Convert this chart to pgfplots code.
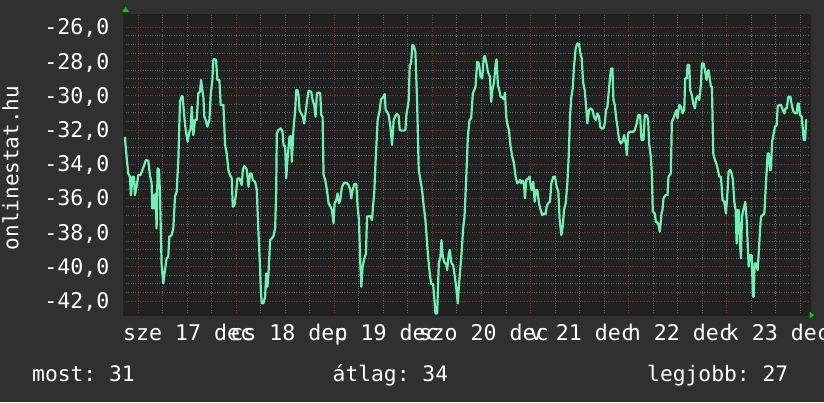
\documentclass[border=0pt]{standalone}
\usepackage{pgfplots}
\pgfplotsset{compat=1.18}
\usepackage{fontspec}
\setmainfont{DejaVu Sans Mono}
\frenchspacing
\definecolor{canvas}{RGB}{48,48,48}
\definecolor{plotbg}{RGB}{33,33,33}
\definecolor{majgrid}{RGB}{125,50,50}
\definecolor{mingrid}{RGB}{88,88,88}
\definecolor{linec}{RGB}{112,240,182}
\definecolor{arrowg}{RGB}{0,210,0}
\begin{document}
\begin{tikzpicture}
\fill[canvas] (-123.5pt,-87pt) rectangle (700.5pt,315pt);
\begin{axis}[
  scale only axis,
  width=686.5pt, height=301pt,
  xmin=-3.6, xmax=164.4,
  ymin=-42.82, ymax=-25.22,
  axis background/.style={fill=plotbg},
  axis line style={draw=plotbg},
  xtick={0,24,48,72,96,120,144},
  xticklabels={,,,,,,},
  minor xtick={6,12,18,30,36,42,54,60,66,78,84,90,102,108,114,126,132,138,150,156,162},
  ytick={-42,-40,-38,-36,-34,-32,-30,-28,-26},
  yticklabels={{-42,0},{-40,0},{-38,0},{-36,0},{-34,0},{-32,0},{-30,0},{-28,0},{-26,0}},
  minor y tick num=3,
  grid=both,
  major grid style={draw=majgrid, dotted, line width=0.9pt},
  minor grid style={draw=mingrid, dotted, line width=0.9pt},
  major tick length=0pt, minor tick length=0pt,
  tick label style={font=\fontsize{21.6}{24}\selectfont, color=white},
  yticklabel style={anchor=east, inner sep=0pt, xshift=-14pt, yshift=-1pt},
  xticklabel style={anchor=base, inner sep=0pt, yshift=-25pt},
  extra x ticks={12.2,36.86,60.78,84.53,108.58,132.53,156.56},
  extra x tick labels={sze 17 dec,cs 18 dec,p 19 dec,szo 20 dec,v 21 dec,h 22 dec,k 23 dec},
  extra x tick style={grid=none, major tick length=0pt},
  clip=true,
]
\addplot[linec, line width=2.2pt, line join=round] coordinates {
(-3.26,-32.40) (-2.85,-33.56) (-2.44,-34.54) (-2.03,-34.73) (-1.79,-35.81) (-1.38,-34.73) (-1.05,-34.73) (-0.81,-35.81) (-0.40,-35.32) (0.01,-34.64)
(0.58,-34.64) (1.07,-34.31) (1.89,-33.76) (2.46,-33.80) (2.87,-34.64) (3.28,-35.12) (3.44,-36.59) (3.69,-35.81) (3.93,-36.59) (4.26,-35.71)
(4.50,-37.76) (4.75,-34.25) (5.08,-34.31) (5.32,-35.61) (5.73,-39.90) (6.14,-40.97) (6.55,-40.19) (6.95,-39.51) (7.36,-39.41) (7.61,-38.24)
(8.18,-38.15) (8.59,-37.76) (9.00,-35.90) (9.41,-35.61) (9.82,-33.76) (10.22,-30.35) (10.63,-30.02) (10.88,-30.06) (11.20,-31.03) (11.61,-32.00)
(12.10,-32.69) (12.43,-32.20) (12.84,-31.91) (13.08,-30.64) (13.49,-32.30) (13.90,-31.42) (14.31,-31.42) (14.72,-29.86) (15.13,-29.76) (15.37,-29.08)
(15.70,-29.67) (15.94,-30.06) (16.19,-31.23) (16.52,-31.42) (16.92,-31.81) (17.42,-31.42) (17.74,-29.96) (18.15,-29.08) (18.40,-27.87) (18.80,-27.87)
(19.05,-27.91) (19.38,-29.08) (19.87,-29.08) (20.19,-30.54) (20.85,-30.54) (21.26,-32.88) (21.66,-33.37) (22.07,-34.34) (22.48,-34.64) (22.89,-34.83)
(23.14,-36.49) (23.54,-36.39) (23.95,-35.71) (24.28,-34.83) (24.77,-34.83) (25.34,-35.22) (25.59,-34.34) (25.99,-34.11) (26.57,-34.31) (26.98,-35.32)
(27.38,-34.54) (27.71,-34.54) (28.04,-34.93) (28.61,-35.03) (29.02,-35.51) (29.43,-38.05) (29.84,-40.10) (30.00,-41.36) (30.25,-42.14) (30.65,-42.14)
(31.06,-41.75) (31.31,-40.39) (31.63,-41.17) (31.88,-40.39) (32.29,-38.44) (32.70,-38.34) (33.11,-38.20) (33.51,-37.76) (33.76,-35.71) (33.92,-32.20)
(34.33,-32.00) (34.90,-31.91) (35.31,-32.10) (35.56,-32.88) (35.97,-32.98) (36.21,-34.83) (36.62,-33.47) (37.03,-32.40) (37.35,-32.36) (37.60,-33.86)
(38.01,-31.91) (38.42,-30.84) (38.66,-29.67) (38.99,-29.67) (39.23,-29.96) (39.48,-30.84) (39.89,-31.03) (40.30,-31.23) (40.62,-31.62) (40.95,-31.03)
(41.28,-30.35) (41.68,-29.72) (42.34,-29.76) (42.67,-30.25) (43.07,-30.54) (43.40,-31.23) (43.73,-29.86) (44.22,-29.82) (44.55,-29.86) (44.79,-31.13)
(45.12,-31.23) (45.36,-34.64) (45.77,-34.93) (46.18,-35.51) (46.59,-36.29) (47.00,-36.45) (47.40,-36.68) (47.81,-37.46) (48.06,-36.29) (48.47,-36.10)
(48.79,-35.71) (49.12,-36.29) (49.45,-36.10) (49.86,-35.32) (50.43,-35.09) (50.92,-35.09) (51.49,-35.22) (51.90,-35.51) (52.14,-36.00) (52.47,-35.51)
(52.88,-35.16) (53.37,-35.16) (53.70,-36.49) (54.02,-37.27) (54.35,-39.80) (54.60,-41.17) (54.92,-39.99) (55.33,-39.51) (55.74,-39.22) (55.99,-37.07)
(56.80,-37.03) (57.21,-37.27) (57.46,-36.49) (57.78,-35.61) (58.03,-34.15) (58.27,-32.98) (58.60,-31.42) (59.09,-30.84) (59.42,-30.21) (59.91,-30.09)
(60.32,-29.90) (60.56,-30.84) (60.89,-30.93) (61.30,-31.13) (61.71,-31.81) (62.11,-32.88) (62.52,-31.42) (62.93,-31.19) (63.34,-31.07) (63.75,-31.19)
(63.99,-32.00) (64.40,-32.04) (64.97,-32.04) (65.38,-32.00) (65.63,-31.13) (65.96,-30.64) (66.20,-30.25) (66.45,-28.20) (66.77,-28.11) (67.10,-27.03)
(67.43,-27.09) (67.83,-27.42) (68.24,-30.25) (68.65,-34.34) (69.06,-34.93) (69.47,-35.51) (69.88,-36.49) (70.29,-37.27) (70.70,-38.63) (70.94,-39.41)
(71.35,-40.39) (71.68,-41.01) (72.17,-41.01) (72.49,-41.95) (72.74,-42.73) (73.15,-42.73) (73.56,-39.80) (73.96,-39.41) (74.21,-38.44) (74.54,-39.41)
(75.03,-39.80) (75.35,-39.80) (75.60,-40.19) (76.01,-39.22) (76.25,-39.02) (76.66,-39.80) (77.07,-39.90) (77.48,-40.58) (77.80,-41.17) (78.21,-42.14)
(78.46,-41.17) (79.12,-39.22) (79.52,-37.76) (79.85,-37.07) (80.26,-34.93) (80.67,-32.40) (81.08,-31.42) (81.48,-31.32) (81.89,-29.86) (82.30,-29.63)
(82.55,-29.47) (82.96,-28.01) (83.36,-28.11) (83.77,-28.89) (84.18,-28.98) (84.59,-27.72) (84.84,-27.68) (85.24,-28.11) (85.57,-28.59) (86.06,-28.89)
(86.39,-30.35) (86.71,-29.57) (87.04,-29.28) (87.45,-28.20) (87.70,-27.87) (88.02,-29.37) (88.35,-29.67) (88.68,-30.06) (89.09,-30.09) (89.49,-30.21)
(89.74,-29.82) (90.07,-31.23) (90.31,-31.62) (90.72,-32.00) (91.13,-32.98) (91.54,-33.56) (91.95,-33.95) (92.35,-34.73) (92.76,-35.12) (93.17,-35.03)
(93.42,-34.93) (93.74,-35.12) (94.07,-34.97) (94.40,-35.12) (94.64,-36.00) (94.97,-34.93) (95.46,-34.83) (95.79,-34.73) (96.03,-35.22) (96.28,-35.51)
(96.69,-35.03) (97.01,-36.20) (97.34,-35.51) (97.67,-35.51) (98.07,-36.29) (98.48,-36.68) (98.89,-36.98) (99.30,-36.88) (99.71,-36.92) (99.95,-36.49)
(100.28,-36.29) (100.77,-36.20) (101.10,-35.12) (101.59,-34.73) (101.99,-34.73) (102.40,-35.32) (102.81,-35.61) (103.14,-37.27) (103.55,-38.15) (103.88,-37.66)
(104.20,-36.68) (104.61,-36.29) (105.02,-35.12) (105.35,-33.56) (105.67,-31.23) (106.00,-30.06) (106.33,-29.57) (106.65,-28.30) (107.06,-27.23) (107.47,-26.94)
(107.88,-26.98) (108.13,-27.42) (108.53,-27.81) (108.86,-29.18) (109.27,-29.67) (109.68,-30.84) (109.92,-31.62) (110.33,-30.84) (110.74,-30.74) (111.15,-30.84)
(111.56,-31.23) (111.97,-31.42) (112.38,-31.03) (112.78,-31.23) (113.03,-31.81) (113.44,-31.91) (113.85,-31.91) (114.17,-31.62) (114.50,-30.84) (114.83,-30.64)
(115.15,-29.76) (115.48,-28.89) (115.73,-28.40) (116.05,-28.40) (116.30,-30.25) (116.63,-30.54) (117.03,-31.42) (117.28,-31.81) (117.69,-32.59) (118.10,-32.79)
(118.50,-32.69) (118.91,-32.30) (119.32,-32.79) (119.57,-33.47) (119.89,-32.20) (120.30,-32.10) (120.71,-32.10) (121.19,-32.10) (121.52,-32.00) (122.01,-31.62)
(122.34,-31.13) (122.83,-31.13) (123.16,-32.59) (123.65,-32.59) (123.97,-31.13) (124.46,-31.13) (124.79,-31.42) (125.03,-32.79) (125.44,-33.56) (125.69,-34.54)
(125.93,-36.78) (126.42,-36.88) (126.67,-37.37) (127.24,-37.46) (127.65,-37.95) (128.06,-36.88) (128.30,-36.68) (128.55,-36.00) (129.04,-35.81) (129.53,-35.81)
(129.77,-34.73) (130.35,-34.54) (130.59,-31.52) (131.00,-31.32) (131.41,-31.03) (131.74,-30.84) (131.98,-31.32) (132.39,-30.54) (132.80,-30.64) (133.21,-31.03)
(133.62,-30.84) (133.86,-28.98) (134.27,-28.98) (134.43,-28.20) (134.84,-28.20) (135.09,-29.67) (135.50,-29.96) (135.82,-30.45) (136.23,-30.74) (136.56,-30.15)
(136.88,-30.02) (137.29,-30.25) (137.70,-29.37) (137.95,-28.11) (138.36,-28.11) (138.68,-28.50) (139.09,-29.08) (139.34,-28.59) (139.58,-28.50) (139.91,-29.08)
(140.15,-29.47) (140.40,-29.47) (140.72,-33.37) (141.13,-33.76) (141.46,-33.95) (141.79,-34.25) (142.20,-34.73) (142.60,-34.73) (143.01,-36.10) (143.42,-36.20)
(143.83,-36.88) (144.24,-35.51) (144.48,-34.44) (144.89,-34.34) (145.22,-34.54) (145.55,-34.93) (145.87,-36.20) (146.20,-36.68) (146.45,-38.63) (146.69,-36.68)
(146.94,-36.68) (147.26,-38.63) (147.51,-39.51) (147.75,-37.07) (148.08,-36.68) (148.57,-36.20) (148.90,-37.27) (149.14,-38.63) (149.39,-39.99) (149.71,-39.32)
(150.12,-39.32) (150.45,-41.75) (150.61,-41.75) (150.86,-39.80) (151.19,-39.80) (151.59,-40.19) (151.84,-39.22) (152.17,-37.85) (152.41,-37.07) (152.82,-36.98)
(153.23,-36.88) (153.64,-35.03) (154.05,-33.37) (154.29,-33.37) (154.62,-34.34) (154.86,-34.34) (155.11,-32.69) (155.52,-32.20) (155.84,-31.81) (156.25,-31.71)
(156.50,-30.60) (156.91,-30.54) (157.31,-30.54) (157.72,-30.84) (158.13,-31.03) (158.38,-30.74) (158.70,-30.74) (159.11,-30.06) (159.60,-30.06) (159.93,-30.54)
(160.34,-30.93) (160.83,-31.03) (161.16,-31.03) (161.40,-30.45) (161.65,-30.45) (161.97,-31.13) (162.38,-31.23) (162.63,-31.91) (162.87,-32.59) (163.20,-32.59)
(163.45,-31.42) (163.69,-31.42)
};
\end{axis}
\fill[arrowg] (2pt,308pt) -- (-1.5pt,303pt) -- (5.5pt,303pt) -- cycle;
\fill[arrowg] (690.5pt,0pt) -- (686pt,-3.5pt) -- (686pt,3.5pt) -- cycle;
\node[rotate=90, anchor=base, inner sep=0pt, text=white, font=\fontsize{21}{24}\selectfont] at (-105pt,147pt) {onlinestat.hu};
\node[anchor=base west, inner sep=0pt, text=white, font=\fontsize{21.3}{24}\selectfont] at (-91.5pt,-66.7pt) {most: 31};
\node[anchor=base west, inner sep=0pt, text=white, font=\fontsize{21.3}{24}\selectfont] at (209pt,-66.7pt) {átlag: 34};
\node[anchor=base west, inner sep=0pt, text=white, font=\fontsize{21.3}{24}\selectfont] at (523.5pt,-66.7pt) {legjobb: 27};
\pgfresetboundingbox
\useasboundingbox (-123.5pt,-87pt) rectangle (700.5pt,315pt);
\end{tikzpicture}
\end{document}
